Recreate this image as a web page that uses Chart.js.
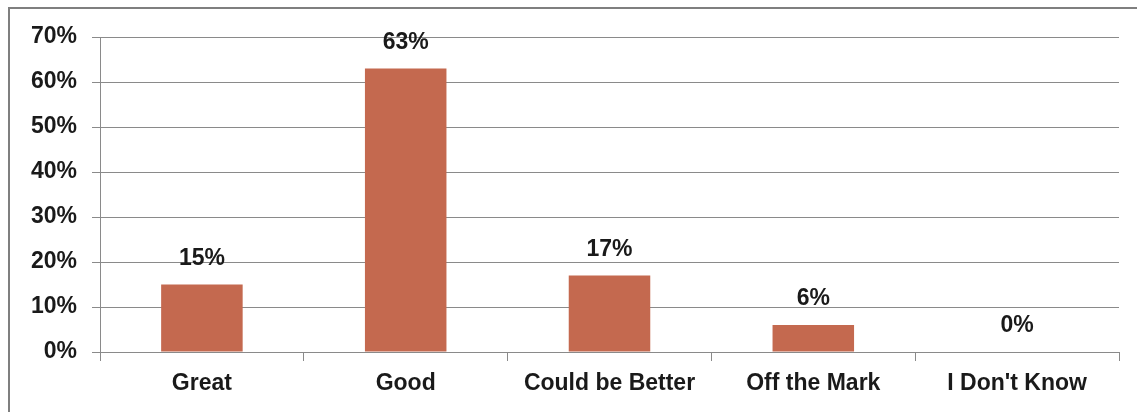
<!DOCTYPE html>
<html>
<head>
<meta charset="utf-8">
<script src="https://cdn.jsdelivr.net/npm/chart.js@4.4.1/dist/chart.umd.min.js"></script>
<style>
  html, body { margin: 0; padding: 0; background: #fff; overflow: hidden; }
  #frame {
    position: absolute; left: 8px; top: 7px;
    width: 1150px; height: 430px;
    border: 2px solid #7f7f7f;
  }
  #wrap { position: absolute; left: 0; top: 0; width: 1137px; height: 412px; }
</style>
</head>
<body>
<div id="frame"></div>
<div id="wrap"><canvas id="surveyChart"></canvas></div>
<script>
const categories = ["Great", "Good", "Could be Better", "Off the Mark", "I Don't Know"];
const shares = [15, 63, 17, 6, 0];
const yTicks = [0, 10, 20, 30, 40, 50, 60, 70];

const labelFont = { family: "'Liberation Sans', Arial, sans-serif", size: 23, weight: "bold" };
const textColor = "#1a1a1a";
const gridGray = "#8a8a8a";

// prints the percentage above each bar
const valueLabels = {
  id: "valueLabels",
  afterDatasetsDraw(chart) {
    const { ctx } = chart;
    const meta = chart.getDatasetMeta(0);
    ctx.save();
    ctx.font = `${labelFont.weight} ${labelFont.size}px ${labelFont.family}`;
    ctx.fillStyle = textColor;
    ctx.textAlign = "center";
    ctx.textBaseline = "middle";
    meta.data.forEach((bar, i) => {
      ctx.fillText(shares[i] + "%", bar.x, bar.y - 26);
    });
    ctx.restore();
  },
};

new Chart(document.getElementById("surveyChart"), {
  type: "bar",
  data: {
    labels: categories,
    datasets: [{
      data: shares,
      backgroundColor: "#c4694f",
      barPercentage: 0.4,
      categoryPercentage: 1,
    }],
  },
  options: {
    responsive: true,
    maintainAspectRatio: false,
    animation: false,
    layout: { padding: { left: 0, right: 18, top: 37, bottom: 0 } },
    plugins: { legend: { display: false }, tooltip: { enabled: false } },
    scales: {
      x: {
        offset: true,
        afterFit: (s) => { s.height = 60; },
        grid: { offset: true, drawOnChartArea: false, color: gridGray, tickLength: 9 },
        border: { color: gridGray, width: 1 },
        ticks: { color: textColor, font: labelFont, padding: 9, maxRotation: 0 },
      },
      y: {
        min: 0,
        max: 70,
        afterFit: (s) => { s.width = 100; },
        afterBuildTicks: (s) => { s.ticks = yTicks.map((v) => ({ value: v })); },
        grid: { color: gridGray, tickLength: 8 },
        border: { color: gridGray, width: 1 },
        ticks: { color: textColor, font: labelFont, padding: 15, callback: (v) => v + "%" },
      },
    },
  },
  plugins: [valueLabels],
});
</script>
</body>
</html>
